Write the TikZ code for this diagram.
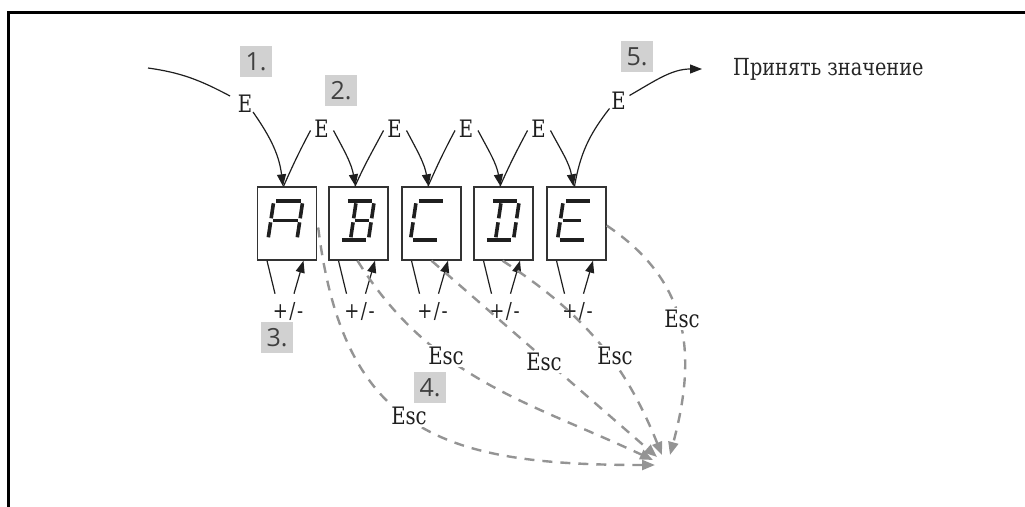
\documentclass[tikz,border=0pt]{standalone}
\usepackage{fontspec}
\setmainfont{DejaVu Serif}[FakeStretch=0.82]
\newfontfamily\tagfont{Open Sans}
\usetikzlibrary{arrows.meta,calc}

% seven-segment strokes, local frame: columns 0 / 11 / 29, rows 0 / 19.5 / 39
\newcommand\sgTop{\draw[seg] (2.5,0) -- (27,0);}
\newcommand\sgBot{\draw[seg] (2.5,39) -- (27,39);}
\newcommand\sgMid{\draw[seg] (2.5,19.5) -- (27,19.5);}
\newcommand\sgMidR{\draw[seg] (13,19.5) -- (27,19.5);}
\newcommand\sgMidS{\draw[seg] (2.5,19.5) -- (21,19.5);}
\newcommand\sgLU{\draw[seg] (0,2.5) -- (0,17.5);}
\newcommand\sgLL{\draw[seg] (0,21.5) -- (0,36.5);}
\newcommand\sgRU{\draw[seg] (29,2.5) -- (29,17.5);}
\newcommand\sgRL{\draw[seg] (29,21.5) -- (29,36.5);}
\newcommand\sgCU{\draw[seg] (11,2.5) -- (11,17.5);}
\newcommand\sgCL{\draw[seg] (11,21.5) -- (11,36.5);}

\begin{document}
\begin{tikzpicture}[x=1pt,y=-1pt,
  lbl/.style={font=\fontsize{24}{26}\selectfont, text=black!88, inner sep=1pt},
  pm/.style={font=\fontsize{22}{24}\selectfont, text=black!88, inner sep=1pt},
  acctext/.style={font=\fontsize{23.5}{26}\selectfont, text=black!85, inner sep=0pt},
  tag/.style={fill=black!18, minimum width=32pt, minimum height=31pt, inner sep=0pt,
              font=\tagfont\fontsize{25}{26}\selectfont, text=black!75},
  disp/.style={draw=black!80, line width=1.4pt, minimum width=59pt, minimum height=73pt, inner sep=0pt},
  seg/.style={line width=3.6pt, draw=black!88},
  enter/.style={line width=1.2pt, draw=black!88},
  enterarr/.style={enter, -{Triangle[length=12pt,width=9pt]}},
  esc/.style={draw=black!42, line width=2.4pt, dash pattern=on 10pt off 8pt,
              -{Triangle[length=13pt,width=10pt]}},
  esclbl/.style={lbl, fill=white, inner sep=2pt},
]
\useasboundingbox (0,0) rectangle (1025,506);

% frame
\draw[line width=3pt, line join=miter] (8,510) -- (8,12) -- (1030,12);

% display cells
\node[disp] (d1) at (287,223.5) {};
\node[disp] (d2) at (358.5,223.5) {};
\node[disp] (d3) at (431.5,223.5) {};
\node[disp] (d4) at (503.5,223.5) {};
\node[disp] (d5) at (576.5,223.5) {};

% glyphs
\begin{scope}[shift={($(d1.north west)+(17,14.5)$)}, xslant=0.15]
  \sgTop \sgLU \sgRU \sgMid \sgLL \sgRL
\end{scope}
\begin{scope}[shift={($(d2.north west)+(17,14.5)$)}, xslant=0.15]
  \sgTop \sgCU \sgRU \sgMidR \sgCL \sgRL \sgBot
\end{scope}
\begin{scope}[shift={($(d3.north west)+(15,14.5)$)}, xslant=0.15]
  \sgTop \sgLU \sgLL \sgBot
\end{scope}
\begin{scope}[shift={($(d4.north west)+(17,14.5)$)}, xslant=0.15]
  \sgTop \sgCU \sgRU \sgCL \sgRL \sgBot
\end{scope}
\begin{scope}[shift={($(d5.north west)+(17,14.5)$)}, xslant=0.15]
  \sgTop \sgLU \sgMidS \sgLL \sgBot
\end{scope}

% step tags
\node[tag] (t1) at (256,61.5) {1.};
\node[tag] (t2) at (341,90.5) {2.};
\node[tag] (t3) at (277,337.5) {3.};
\node[tag] (t4) at (430,387.5) {4.};
\node[tag] (t5) at (637,56.5) {5.};

% E key labels
\node[lbl] (e1) at (245,104) {E};
\node[lbl] (e2) at (321.5,128.5) {E};
\node[lbl] (e3) at (394.5,128.5) {E};
\node[lbl] (e4) at (466,128.5) {E};
\node[lbl] (e5) at (538.5,128.5) {E};
\node[lbl] (e6) at (618.5,100.5) {E};
\node[acctext, anchor=base west] (acc) at (733,75) {Принять значение};

% E key chain
\coordinate (s0) at (148,68);
\draw[enter] (s0) to[out=-8,in=152] ($(e1)+(-15,-8)$);
\draw[enterarr] ($(e1)+(8,8)$) to[out=-55,in=97] ($(d1.north)+(-4,0)$);
\foreach \a/\b in {1/2,2/3,3/4,4/5} {
  \draw[enter] ($(d\a.north)+(-3.5,0)$) to[out=66,in=-118] ($(e\b)+(-11,2)$);
  \draw[enterarr] ($(e\b)+(12,2)$) to[out=-62,in=100] ($(d\b.north)+(-3,0)$);
}
\draw[enter] ($(d5.north)+(-2,0)$) to[out=80,in=-128] ($(e6)+(-9,8)$);
\draw[enterarr] ($(e6)+(11,-5)$) to[out=30,in=180] ($(acc.base west)+(-31,-6)$);

% +/- keys
\foreach \i in {1,...,5} {
  \node[pm] (p\i) at ($(d\i.south)+(1,51)$) {+\kern1.5pt/\kern1.5pt-};
  \draw[enter] ($(d\i.south)+(-20,0)$) -- ($(p\i)+(-13,-18)$);
  \draw[enterarr] ($(p\i)+(6,-18)$) -- ($(d\i.south)+(16.5,0)$);
}

% Esc returns
\coordinate (conv) at (660,460);
\draw[esc] ($(d1.east)+(1,4)$) to[out=-83,in=180,looseness=1.3] ($(conv)+(-5,5)$);
\draw[esc] ($(d2.south)+(-1,0)$) to[out=-58,in=155] ($(conv)+(-7,0)$);
\draw[esc] (d3.south) -- ($(conv)+(-3,-3)$);
\draw[esc] ($(d4.south)+(-1,0)$) to[out=-33,in=112] ($(conv)+(2,-5)$);
\draw[esc] ($(d5.east)+(0,2)$) to[out=-34,in=75,looseness=1.1] ($(conv)+(10,-5)$);

\node[esclbl] (x1) at (409,416) {Esc};
\node[esclbl] (x2) at (446,356) {Esc};
\node[esclbl] (x3) at (544,362) {Esc};
\node[esclbl] (x4) at (615,356) {Esc};
\node[esclbl] (x5) at (682,319) {Esc};
\end{tikzpicture}
\end{document}
